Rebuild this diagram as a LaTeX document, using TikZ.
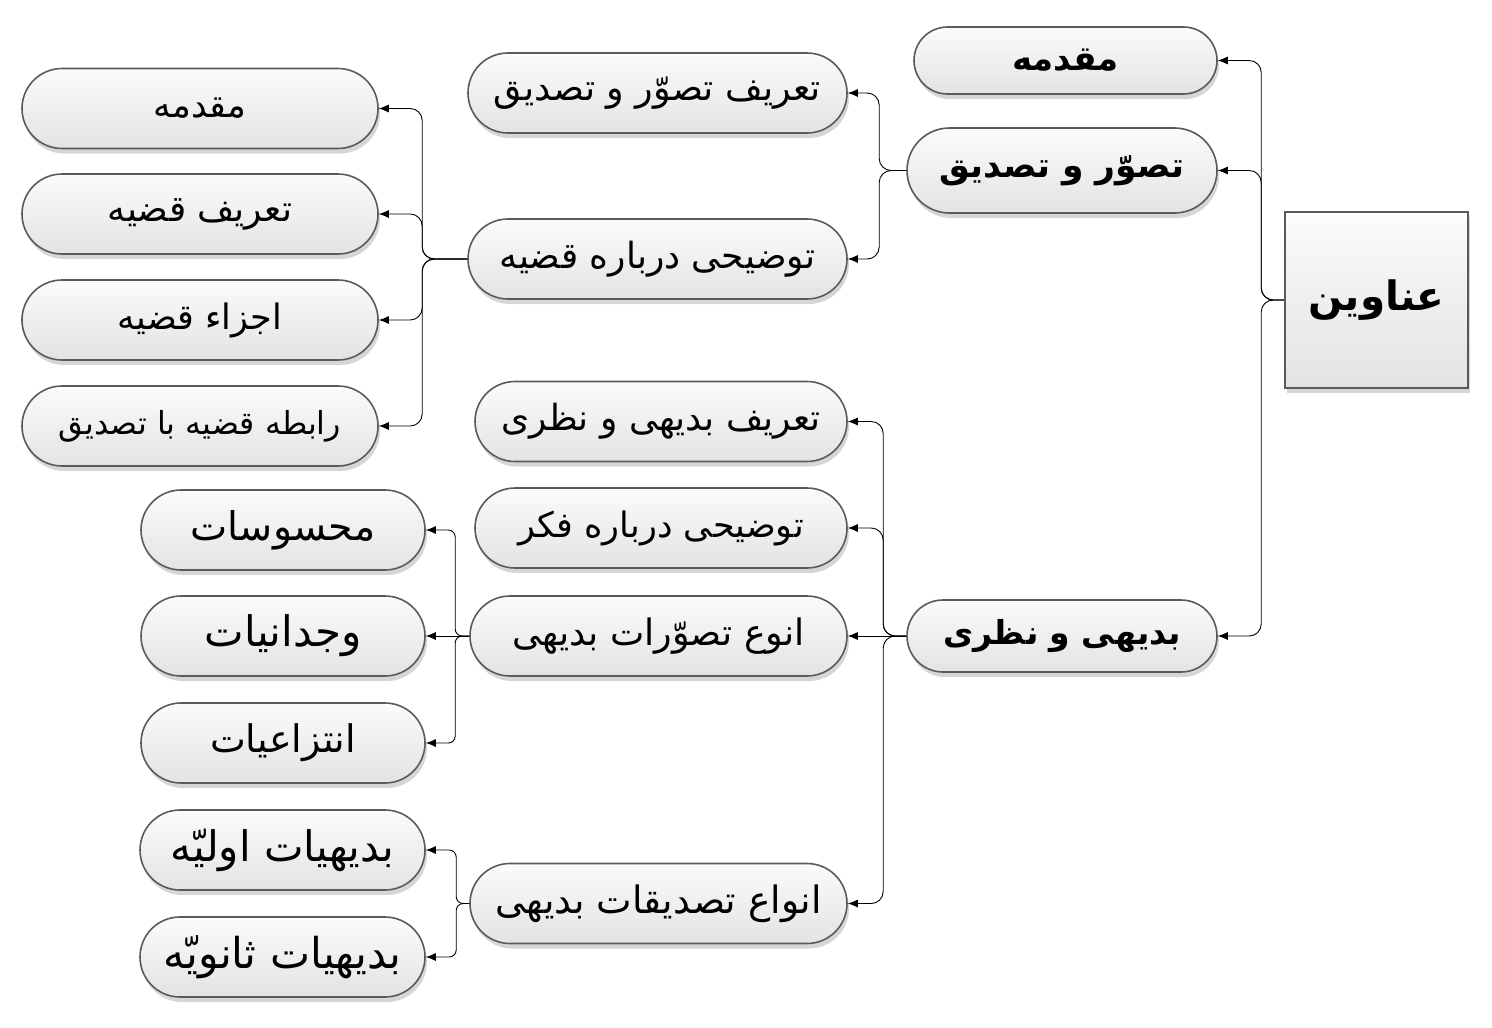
\documentclass[tikz,border=0pt]{standalone}
\usepackage{fontspec}
\usetikzlibrary{shapes.misc,shadows,arrows.meta}
\TeXXeTstate=1
\newfontfamily\fa[Script=Arabic]{DejaVu Sans}
\definecolor{edge}{HTML}{5A5A5A}
\begin{document}
\begin{tikzpicture}[x=1pt,y=-1pt,
  box/.style={draw=edge, line width=1.6pt, top color=gray!3, bottom color=gray!22, inner sep=0pt,
     drop shadow={shadow xshift=2pt, shadow yshift=-5pt, fill=black, opacity=0.16}},
  pill/.style={box, rounded rectangle, minimum height=80pt},
  conn/.style={line width=0.9pt, rounded corners=12pt, -{Latex[length=10pt,width=8pt]}},
  sconn/.style={conn, rounded corners=7pt},
  fsb/.style={font=\fa\bfseries\fontsize{#1}{#1}\selectfont},
  fsr/.style={font=\fa\fontsize{#1}{#1}\selectfont}]
\useasboundingbox (0,0) rectangle (1492,1028);
% root
\node[box, rectangle, minimum width=183pt, minimum height=176pt, fsb=40.5] (root) at (1376.5,300) {\beginR عناوین\endR};
% level 1
\node[pill, fsb=34, minimum width=303pt, minimum height=67pt] (l1a) at (1065.5,60.5) {\beginR مقدمه\endR};
\node[pill, fsb=34.5, minimum width=310pt, minimum height=85pt] (l1b) at (1062,170.5) {\beginR تصوّر و تصدیق\endR};
\node[pill, fsb=33, minimum width=310pt, minimum height=72pt] (l1c) at (1062,636) {\beginR بدیهی و نظری\endR};
% level 2
\node[pill, fsr=36.4, minimum width=379pt] (l2a) at (657.5,93) {\beginR تعریف تصوّر و تصدیق\endR};
\node[pill, fsr=36, minimum width=379pt] (l2b) at (657.5,259) {\beginR توضیحی درباره قضیه\endR};
\node[pill, fsr=36, minimum width=372pt] (l2c) at (661,421.5) {\beginR تعریف بدیهی و نظری\endR};
\node[pill, fsr=35, minimum width=372pt] (l2d) at (661,528) {\beginR توضیحی درباره فکر\endR};
\node[pill, fsr=36.4, minimum width=377pt] (l2e) at (658.5,636) {\beginR انوع تصوّرات بدیهی\endR};
\node[pill, fsr=37.7, minimum width=377pt] (l2f) at (658.5,903.5) {\beginR انواع تصدیقات بدیهی\endR};
% level 3 (under l2b)
\node[pill, fsr=35, minimum width=356pt] (l3a) at (200,108.5) {\beginR مقدمه\endR};
\node[pill, fsr=36, minimum width=356pt] (l3b) at (200,214) {\beginR تعریف قضیه\endR};
\node[pill, fsr=35, minimum width=356pt] (l3c) at (200,320) {\beginR اجزاء قضیه\endR};
\node[pill, fsr=31.7, minimum width=356pt] (l3d) at (200,426) {\beginR رابطه قضیه با تصدیق\endR};
% under l2e
\node[pill, fsr=39.5, minimum width=284pt] (l4a) at (283,530) {\beginR محسوسات\endR};
\node[pill, fsr=42, minimum width=284pt] (l4b) at (283,636) {\beginR وجدانیات\endR};
\node[pill, fsr=38, minimum width=284pt] (l4c) at (283,743) {\beginR انتزاعیات\endR};
% under l2f
\node[pill, fsr=42, minimum width=285pt] (l5a) at (282.5,850) {\beginR بدیهیات اولیّه\endR};
\node[pill, fsr=42.5, minimum width=285pt] (l5b) at (282.5,957) {\beginR بدیهیات ثانویّه\endR};
% connectors
\draw[conn] (root.west) -- ++(-23,0) |- (l1a.east);
\draw[conn] (root.west) -- ++(-23,0) |- (l1b.east);
\draw[conn] (root.west) -- ++(-23,0) |- (l1c.east);
\draw[conn] (l1b.west) -- ++(-27,0) |- (l2a.east);
\draw[conn] (l1b.west) -- ++(-27,0) |- (l2b.east);
\draw[conn] (l1c.west) -- ++(-23,0) |- (l2c.east);
\draw[conn] (l1c.west) -- ++(-23,0) |- (l2d.east);
\draw[conn] (l1c.west) -- (l2e.east);
\draw[conn] (l1c.west) -- ++(-23,0) |- (l2f.east);
\draw[conn] (l2b.west) -- ++(-45,0) |- (l3a.east);
\draw[conn] (l2b.west) -- ++(-45,0) |- (l3b.east);
\draw[conn] (l2b.west) -- ++(-45,0) |- (l3c.east);
\draw[conn] (l2b.west) -- ++(-45,0) |- (l3d.east);
\draw[sconn] (l2e.west) -- ++(-14,0) |- (l4a.east);
\draw[sconn] (l2e.west) -- (l4b.east);
\draw[sconn] (l2e.west) -- ++(-14,0) |- (l4c.east);
\draw[sconn] (l2f.west) -- ++(-13,0) |- (l5a.east);
\draw[sconn] (l2f.west) -- ++(-13,0) |- (l5b.east);
\end{tikzpicture}
\end{document}
